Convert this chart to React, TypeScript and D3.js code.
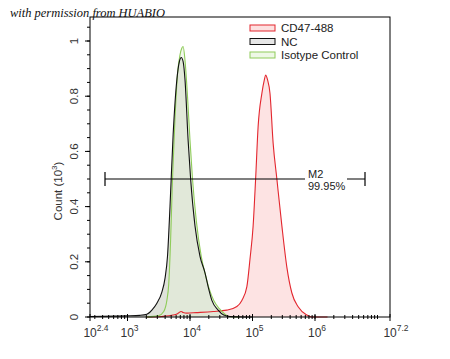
import React from 'react';
import * as d3 from 'd3';

// log10(fluorescence) -> count (x10^3)
const cd47 = [
  [3.3, 0], [3.55, 0.002], [3.73, 0.007], [3.8, 0.012], [3.86, 0.02], [3.89, 0.016],
  [3.95, 0.014], [4.1, 0.016], [4.37, 0.02], [4.59, 0.025], [4.75, 0.038], [4.83, 0.06],
  [4.91, 0.11], [4.96, 0.21], [5.01, 0.33], [5.05, 0.5], [5.09, 0.69], [5.15, 0.81],
  [5.19, 0.86], [5.21, 0.877], [5.24, 0.86], [5.28, 0.81], [5.33, 0.63], [5.39, 0.5],
  [5.47, 0.33], [5.55, 0.18], [5.63, 0.087], [5.73, 0.037], [5.87, 0.007], [5.95, 0], [6.2, 0],
];
const nc = [
  [2.4, 0.002], [2.8, 0.003], [3.0, 0.004], [3.2, 0.006], [3.31, 0.01], [3.39, 0.025],
  [3.47, 0.05], [3.55, 0.09], [3.6, 0.14], [3.64, 0.22], [3.68, 0.4], [3.73, 0.66],
  [3.79, 0.86], [3.83, 0.925], [3.86, 0.94], [3.89, 0.925], [3.92, 0.86], [3.97, 0.64],
  [4.01, 0.5], [4.08, 0.33], [4.16, 0.22], [4.24, 0.16], [4.29, 0.11], [4.35, 0.06],
  [4.45, 0.025], [4.54, 0.007], [4.64, 0.002], [5.0, 0],
];
const isotype = [
  [3.3, 0], [3.5, 0.005], [3.58, 0.02], [3.63, 0.06], [3.66, 0.12], [3.69, 0.28],
  [3.72, 0.5], [3.76, 0.72], [3.8, 0.88], [3.84, 0.95], [3.87, 0.975], [3.89, 0.98],
  [3.92, 0.93], [3.96, 0.8], [4.0, 0.64], [4.04, 0.5], [4.1, 0.35], [4.18, 0.22],
  [4.25, 0.15], [4.31, 0.1], [4.38, 0.06], [4.47, 0.03], [4.56, 0.01], [4.62, 0.002], [4.8, 0],
];

const xTicks = [2.4, 3, 4, 5, 6, 7.2];
const yTicks = [0, 0.2, 0.4, 0.6, 0.8, 1];
const gate = { name: 'M2', pct: '99.95%', from: 2.64, to: 6.8, level: 0.5 };
const legend = [
  { label: 'CD47-488', stroke: '#e3262e', fill: '#fde0e0' },
  { label: 'NC', stroke: '#111', fill: '#e6e6e6' },
  { label: 'Isotype Control', stroke: '#8fcc5a', fill: '#eef8e6' },
];

const W = 450, H = 359;
const m = { left: 90, right: 390, top: 17, bottom: 317 };
const font = 'Liberation Sans, Arial, sans-serif';

export default function App() {
  const x = d3.scaleLinear().domain([2.4, 7.2]).range([m.left, m.right]);
  const y = d3.scaleLinear().domain([0, 1.087]).range([m.bottom, m.top]);

  const areaGen = d3.area<number[]>().x(d => x(d[0])).y0(y(0)).y1(d => y(d[1])).curve(d3.curveMonotoneX);
  const lineGen = d3.line<number[]>().x(d => x(d[0])).y(d => y(d[1])).curve(d3.curveMonotoneX);

  // minor log ticks
  const minor: number[] = [];
  for (let e = 2; e <= 7; e++) {
    for (let k = 1; k <= 9; k++) {
      const v = e + Math.log10(k);
      if (v >= 2.4 && v <= 7.2) minor.push(v);
    }
  }
  const yMinor = d3.range(0, 1.08, 0.05);

  return (
    <svg width={W} height={H} style={{ position: 'absolute', left: 0, top: 0, background: '#fff' }}>
      {/* fills */}
      <path d={areaGen(cd47) || ''} fill="#fde3e3" />
      <path d={areaGen(nc) || ''} fill="#d9ddd3" fillOpacity={0.85} />
      <path d={areaGen(isotype) || ''} fill="#e4f0d8" fillOpacity={0.45} />
      {/* lines */}
      <path d={lineGen(cd47) || ''} fill="none" stroke="#e3262e" strokeWidth={1.1} />
      <path d={lineGen(isotype) || ''} fill="none" stroke="#8fcc5a" strokeWidth={1.1} />
      <path d={lineGen(nc) || ''} fill="none" stroke="#111" strokeWidth={1.1} />

      {/* frame */}
      <rect x={m.left} y={m.top} width={m.right - m.left} height={m.bottom - m.top} fill="none" stroke="#000" strokeWidth={1} />

      {/* x axis ticks */}
      {minor.map((v, i) => (
        <line key={'xm' + i} x1={x(v)} x2={x(v)} y1={m.bottom - 2} y2={m.bottom + 2} stroke="#000" />
      ))}
      {xTicks.map(v => (
        <g key={'xt' + v}>
          <line x1={x(v)} x2={x(v)} y1={m.bottom - 3} y2={m.bottom + 4} stroke="#000" />
          <text x={x(v) + (v % 1 ? 6 : 2)} y={337} textAnchor="middle" fontFamily={font} fontSize={12} fill="#333">
            10<tspan fontSize={8.5} dy={-6}>{v % 1 ? v.toFixed(1) : v}</tspan>
          </text>
        </g>
      ))}

      {/* y axis ticks */}
      {yMinor.map((v, i) => (
        <line key={'ym' + i} x1={m.left - 3} x2={m.left} y1={y(v)} y2={y(v)} stroke="#000" />
      ))}
      {yTicks.map(v => (
        <g key={'yt' + v}>
          <line x1={m.left - 5} x2={m.left} y1={y(v)} y2={y(v)} stroke="#000" />
          <text transform={`translate(78,${y(v)}) rotate(-90)`} textAnchor="middle" fontFamily={font} fontSize={11.5} fill="#333">
            {v}
          </text>
        </g>
      ))}
      <text transform={`translate(62,${(y(0) + y(1)) / 2 + 12}) rotate(-90)`} textAnchor="middle" fontFamily={font} fontSize={11.5} fill="#333">
        Count (10<tspan fontSize={8} dy={-5}>3</tspan><tspan dy={5}>)</tspan>
      </text>

      {/* gate */}
      <line x1={x(gate.from)} x2={x(gate.to)} y1={y(gate.level)} y2={y(gate.level)} stroke="#000" strokeWidth={1.2} />
      <line x1={x(gate.from)} x2={x(gate.from)} y1={y(gate.level) - 7} y2={y(gate.level) + 7} stroke="#000" strokeWidth={1.2} />
      <line x1={x(gate.to)} x2={x(gate.to)} y1={y(gate.level) - 7} y2={y(gate.level) + 7} stroke="#000" strokeWidth={1.2} />
      <rect x={305} y={y(gate.level) - 9} width={42} height={21} fill="#fff" />
      <text x={308} y={y(gate.level) - 1} fontFamily={font} fontSize={11} fill="#222">{gate.name}</text>
      <text x={308} y={y(gate.level) + 11} fontFamily={font} fontSize={11} fill="#222">{gate.pct}</text>

      {/* legend */}
      {legend.map((d, i) => (
        <g key={d.label} transform={`translate(250,${28 + i * 13.5})`}>
          <rect x={0} y={-3} width={25} height={6} fill={d.fill} stroke={d.stroke} strokeWidth={1} />
          <text x={31} y={4} fontFamily={font} fontSize={11.5} fill="#222">{d.label}</text>
        </g>
      ))}

      {/* watermark */}
      <text x={10} y={17} fontFamily="Liberation Serif, serif" fontStyle="italic" fontSize={12.5}
        textLength={155} lengthAdjust="spacingAndGlyphs" fill="#111">
        with permission from HUABIO
      </text>
    </svg>
  );
}
